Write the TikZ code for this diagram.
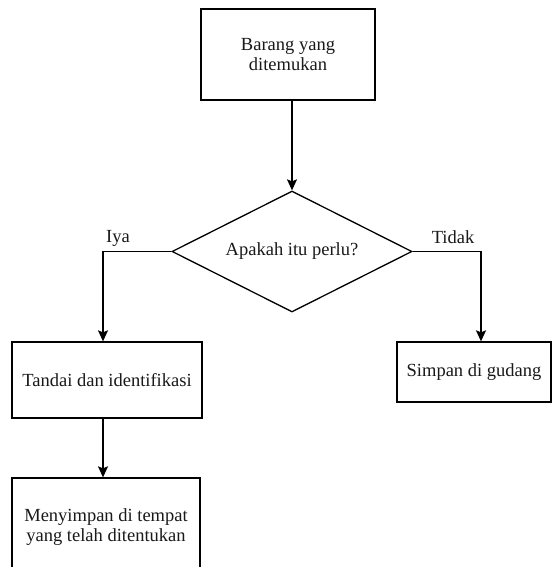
\documentclass[tikz,border=0pt]{standalone}
\usepackage{fontspec}
\setmainfont{Liberation Serif}
\usetikzlibrary{shapes.geometric,arrows.meta}
\begin{document}
\begin{tikzpicture}[x=1pt,y=-1pt,
  every node/.style={font=\fontsize{18.5}{20.5}\selectfont, text=black!90},
  box/.style={draw=black, line width=1.3pt, rectangle, inner sep=0pt, align=center},
  decision/.style={draw=black, line width=1.3pt, diamond, inner sep=0pt, aspect=2},
  arr/.style={draw=black, line width=1.3pt, -{Stealth[length=11pt,width=10pt,inset=2pt]}},
  lbl/.style={inner sep=0pt}]
  \useasboundingbox (0,0) rectangle (553,567);
  \clip (0,0) rectangle (553,567);
  \fill[white] (0,0) rectangle (553,567);

  % boxes and decision
  \node[box, minimum width=174pt, minimum height=91pt] (found) at (288,54.5) {Barang yang\\ditemukan};
  \node[decision, minimum width=240pt, minimum height=121pt] (need) at (292,251.5) {Apakah itu perlu?};
  \node[box, minimum width=190pt, minimum height=76pt] (mark) at (107,380) {Tandai dan identifikasi};
  \node[box, minimum width=154pt, minimum height=60pt] (store) at (474,372) {Simpan di gudang};
  \node[box, minimum width=188pt, minimum height=98pt] (place) at (106,527) {Menyimpan di tempat\\yang telah ditentukan};

  % bend points of the two branches
  \coordinate (yes) at (103,251.5);
  \coordinate (no) at (481,251.5);

  % connectors
  \draw[arr] (need.north |- found.south) -- (need.north);
  \draw[arr] (need.west) -- (yes) -- (yes |- mark.north);
  \draw[arr] (need.east) -- (no) -- (no |- store.north);
  \draw[arr] (yes |- mark.south) -- (yes |- place.north);

  % branch labels
  \node[lbl] (lyes) at (118,238) {Iya};
  \node[lbl] (lno) at (453,237) {Tidak};
\end{tikzpicture}
\end{document}
